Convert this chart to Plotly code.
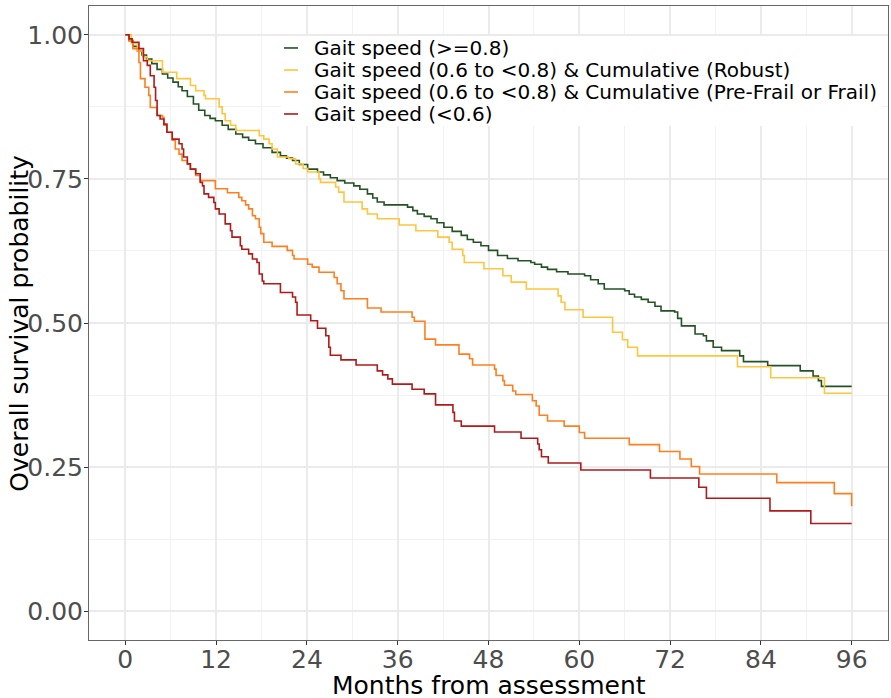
import plotly.graph_objects as go

# ---- data (months, survival after each drop) ----
green_t = [0, 0.5, 1.0, 1.6, 2.2, 2.8, 3.5, 4.2, 4.9, 5.6, 6.3, 7.0, 7.5, 8.2, 9.0, 9.7, 10.5, 11.2, 11.9, 12.8, 13.6, 14.6, 15.5, 16.3, 17.2, 18.2, 19.4, 20.5, 21.3, 22.1, 23.0, 24.1, 25.4, 26.2, 27.1, 28.0, 29.0, 30.2, 31.0, 32.0, 32.7, 33.3, 34.2, 37.3, 38.0, 38.6, 39.5, 40.4, 41.2, 42.1, 43.2, 44.4, 45.2, 46.0, 47.0, 48.0, 49.2, 50.5, 51.9, 53.6, 54.1, 55.0, 55.8, 57.0, 58.5, 60.7, 61.5, 62.5, 63.3, 66.0, 66.6, 67.3, 68.2, 69.1, 70.0, 70.8, 72.6, 73.0, 73.5, 75.3, 76.4, 76.8, 77.7, 78.8, 81.2, 81.7, 84.9, 89.2, 90.9, 91.6, 92.0, 96.0]
green_s = [1.0, 0.99, 0.98, 0.972, 0.965, 0.958, 0.95, 0.94, 0.932, 0.925, 0.918, 0.91, 0.903, 0.893, 0.88, 0.869, 0.86, 0.855, 0.851, 0.843, 0.836, 0.828, 0.822, 0.817, 0.811, 0.804, 0.796, 0.79, 0.786, 0.782, 0.775, 0.767, 0.762, 0.757, 0.752, 0.747, 0.743, 0.738, 0.732, 0.724, 0.717, 0.71, 0.705, 0.701, 0.695, 0.689, 0.685, 0.681, 0.674, 0.666, 0.659, 0.652, 0.645, 0.64, 0.634, 0.626, 0.617, 0.612, 0.608, 0.605, 0.602, 0.597, 0.593, 0.589, 0.585, 0.582, 0.575, 0.568, 0.559, 0.556, 0.55, 0.545, 0.541, 0.536, 0.529, 0.521, 0.519, 0.508, 0.495, 0.481, 0.478, 0.469, 0.458, 0.452, 0.443, 0.433, 0.426, 0.417, 0.408, 0.40, 0.39, 0.39]

yellow_t = [0, 0.8, 1.6, 2.3, 2.9, 4.9, 6.8, 8.6, 9.3, 10.4, 10.6, 12.4, 12.8, 13.2, 13.9, 14.6, 17.7, 18.3, 19.0, 19.4, 20.1, 21.6, 22.5, 23.5, 24.1, 25.6, 25.8, 27.8, 28.2, 28.9, 31.3, 32.0, 33.3, 36.2, 38.4, 41.3, 42.8, 43.2, 44.6, 44.8, 47.4, 49.9, 51.0, 53.0, 57.2, 57.6, 58.1, 60.5, 64.4, 65.7, 66.4, 67.7, 80.9, 85.3, 92.4, 96.0]
yellow_s = [1.0, 0.985, 0.972, 0.962, 0.955, 0.935, 0.924, 0.912, 0.903, 0.895, 0.889, 0.875, 0.863, 0.851, 0.843, 0.834, 0.825, 0.819, 0.811, 0.802, 0.788, 0.785, 0.776, 0.768, 0.762, 0.75, 0.744, 0.736, 0.727, 0.71, 0.698, 0.689, 0.681, 0.67, 0.66, 0.649, 0.64, 0.628, 0.617, 0.605, 0.594, 0.582, 0.571, 0.559, 0.547, 0.536, 0.523, 0.51, 0.484, 0.471, 0.458, 0.443, 0.424, 0.405, 0.378, 0.378]

orange_t = [0, 0.5, 1.0, 1.8, 2.0, 2.6, 3.1, 3.3, 4.2, 4.9, 5.1, 5.5, 6.2, 6.6, 7.1, 7.5, 8.2, 8.6, 9.3, 9.9, 11.9, 13.5, 15.0, 15.4, 15.9, 16.3, 16.8, 17.2, 17.7, 17.9, 18.3, 19.4, 21.4, 22.1, 22.3, 24.1, 24.7, 25.6, 27.6, 28.0, 28.5, 28.9, 32.0, 33.8, 37.9, 38.2, 39.6, 41.0, 44.1, 45.5, 45.9, 48.8, 49.0, 49.9, 50.1, 51.2, 51.6, 53.8, 54.3, 54.7, 55.8, 58.0, 60.0, 60.7, 66.6, 70.6, 73.3, 74.8, 75.9, 86.1, 93.7, 96.0]
orange_s = [1.0, 0.99, 0.976, 0.952, 0.924, 0.909, 0.895, 0.874, 0.86, 0.857, 0.843, 0.831, 0.817, 0.802, 0.793, 0.782, 0.776, 0.767, 0.756, 0.747, 0.733, 0.726, 0.718, 0.712, 0.705, 0.698, 0.686, 0.681, 0.666, 0.655, 0.64, 0.633, 0.626, 0.617, 0.611, 0.602, 0.597, 0.588, 0.579, 0.568, 0.556, 0.542, 0.526, 0.519, 0.51, 0.503, 0.472, 0.462, 0.446, 0.438, 0.427, 0.42, 0.409, 0.40, 0.392, 0.382, 0.376, 0.365, 0.356, 0.34, 0.33, 0.321, 0.31, 0.30, 0.289, 0.277, 0.264, 0.251, 0.238, 0.223, 0.204, 0.182]

red_t = [0, 0.5, 0.9, 1.8, 2.4, 2.9, 3.3, 3.8, 4.0, 4.2, 4.6, 5.1, 5.5, 6.2, 7.1, 7.5, 7.7, 8.2, 8.6, 9.3, 9.9, 10.2, 10.4, 11.0, 11.7, 11.9, 12.4, 13.2, 13.9, 14.1, 15.2, 15.4, 16.3, 16.8, 17.4, 17.7, 18.1, 18.3, 20.5, 22.1, 22.5, 22.7, 24.5, 25.4, 26.5, 26.9, 27.1, 28.5, 30.5, 33.3, 34.0, 34.7, 35.3, 37.9, 39.5, 41.0, 43.3, 43.5, 44.4, 48.8, 52.3, 54.5, 54.7, 55.0, 55.9, 60.2, 69.4, 75.8, 76.8, 85.2, 90.6, 96.0]
red_s = [1.0, 0.993, 0.987, 0.976, 0.955, 0.947, 0.929, 0.909, 0.886, 0.86, 0.854, 0.845, 0.831, 0.819, 0.811, 0.802, 0.788, 0.776, 0.767, 0.759, 0.744, 0.738, 0.724, 0.718, 0.709, 0.698, 0.689, 0.672, 0.66, 0.649, 0.634, 0.628, 0.62, 0.611, 0.605, 0.585, 0.573, 0.568, 0.553, 0.545, 0.536, 0.514, 0.504, 0.491, 0.478, 0.458, 0.444, 0.436, 0.427, 0.417, 0.41, 0.403, 0.394, 0.385, 0.377, 0.358, 0.345, 0.33, 0.321, 0.311, 0.30, 0.29, 0.28, 0.268, 0.257, 0.245, 0.231, 0.215, 0.196, 0.174, 0.152, 0.152]

names = ["Gait speed (>=0.8)",
         "Gait speed (0.6 to <0.8) & Cumulative (Robust)",
         "Gait speed (0.6 to <0.8) & Cumulative (Pre-Frail or Frail)",
         "Gait speed (<0.6)"]
colors = ["#245224", "#FFC53D", "#FF7F1F", "#B01A1A"]
x_ticks = [0, 12, 24, 36, 48, 60, 72, 84, 96]
y_ticks = [0, 0.25, 0.5, 0.75, 1.0]
y_tick_labels = ["0.00", "0.25", "0.50", "0.75", "1.00"]
x_title = "Months from assessment"
y_title = "Overall survival probability"

FONT = "DejaVu Sans"

fig = go.Figure()
for t, s, n, c in zip([green_t, yellow_t, orange_t, red_t],
                      [green_s, yellow_s, orange_s, red_s], names, colors):
    fig.add_trace(go.Scatter(x=t, y=s, mode="lines", name=n, showlegend=False,
                             line=dict(color=c, width=1.6, shape="hv")))

axis_common = dict(showline=True, linecolor="#666666", linewidth=1, mirror=True,
                   ticks="outside", ticklen=4, tickcolor="#333333", tickwidth=1,
                   showgrid=True, gridcolor="#EBEBEB", gridwidth=1.5, zeroline=False,
                   automargin=False,
                   tickfont=dict(family=FONT, size=25, color="#4D4D4D"))

# legend (drawn as a white box, line swatches and real text labels)
leg_x0, leg_x1 = 0.240, 0.9925
leg_top, leg_bot = 0.9527, 0.8107
sw_x0, sw_x1, txt_x = 0.244, 0.2616, 0.2791
row_y = [0.9338, 0.899, 0.8644, 0.8297]

shapes = [dict(type="rect", xref="paper", yref="paper", x0=leg_x0, x1=leg_x1,
               y0=leg_bot, y1=leg_top, fillcolor="white", line=dict(width=0), layer="above")]
annotations = []
for n, c, yy in zip(names, colors, row_y):
    shapes.append(dict(type="line", xref="paper", yref="paper", x0=sw_x0, x1=sw_x1,
                       y0=yy, y1=yy, line=dict(color=c, width=1.6), layer="above"))
    annotations.append(dict(text=n, xref="paper", yref="paper", x=txt_x, y=yy,
                            xanchor="left", yanchor="middle", showarrow=False,
                            font=dict(family=FONT, size=20, color="black")))

# axis titles
annotations.append(dict(text=x_title, xref="paper", yref="paper", x=0.5, y=-0.071,
                        xanchor="center", yanchor="middle", showarrow=False,
                        font=dict(family=FONT, size=25, color="black")))
annotations.append(dict(text=y_title, xref="paper", yref="paper", x=-0.088, y=0.5,
                        xanchor="center", yanchor="middle", showarrow=False, textangle=-90,
                        font=dict(family=FONT, size=25, color="black")))

fig.update_layout(
    width=891, height=698,
    margin=dict(l=89, r=3, t=6, b=58),
    paper_bgcolor="white", plot_bgcolor="white",
    font=dict(family=FONT, color="black"),
    xaxis=dict(range=[-4.8, 100.8], tickvals=x_ticks, ticklabelstandoff=-7,
               minor=dict(dtick=6, tick0=0, showgrid=True, gridcolor="#F2F2F2", gridwidth=1, ticks=""),
               **axis_common),
    yaxis=dict(range=[-0.05, 1.05], tickvals=y_ticks, ticktext=y_tick_labels, ticklabelstandoff=-4,
               minor=dict(dtick=0.125, tick0=0, showgrid=True, gridcolor="#F2F2F2", gridwidth=1, ticks=""),
               **axis_common),
    shapes=shapes,
    annotations=annotations,
    showlegend=False,
)

fig.write_html("out.html", config={"displayModeBar": False},
               post_script="document.body.style.margin='0';document.body.style.padding='0';")
